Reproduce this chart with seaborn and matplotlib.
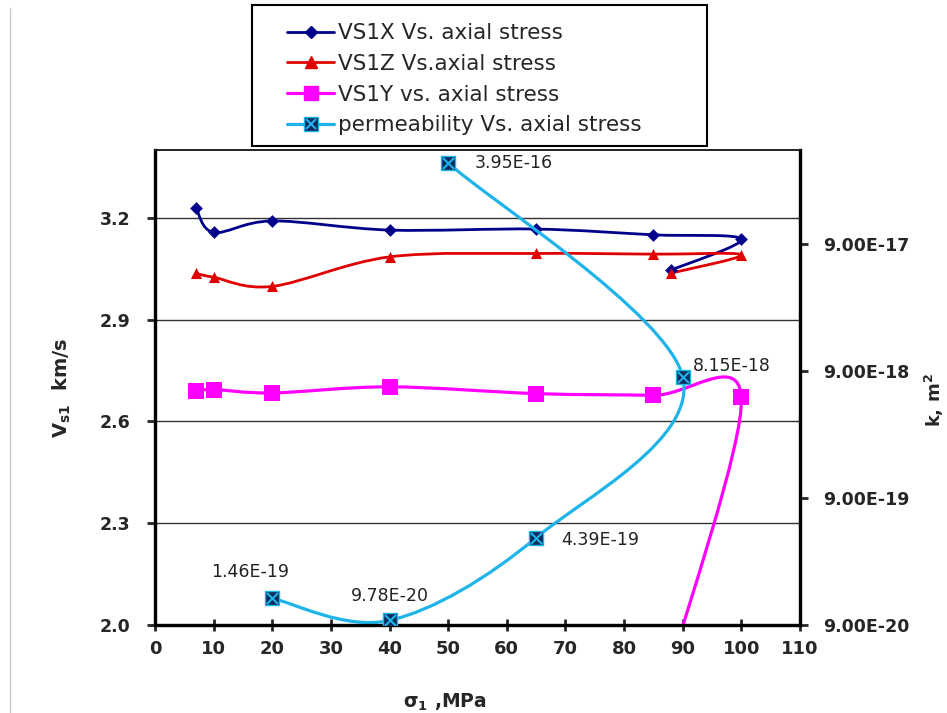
import matplotlib
matplotlib.use("Agg")
import matplotlib.pyplot as plt
import seaborn as sns
import numpy as np
import pandas as pd
from matplotlib.path import Path
from matplotlib.patches import PathPatch, Rectangle
from matplotlib.lines import Line2D

# data
stress = [7, 10, 20, 40, 65, 85, 100, 88]
vs1x = [3.230, 3.157, 3.191, 3.164, 3.167, 3.150, 3.137, 3.046]
vs1z = [3.036, 3.025, 2.998, 3.085, 3.095, 3.093, 3.091, 3.037]
vs1y = [2.690, 2.694, 2.684, 2.702, 2.682, 2.677, 2.671, 1.88]

perm_stress = [50, 90, 65, 40, 20]
perm_k = [3.95e-16, 8.15e-18, 4.39e-19, 9.78e-20, 1.46e-19]

x_ticks = list(range(0, 111, 10))
vs_ticks = [2.0, 2.3, 2.6, 2.9, 3.2]
k_ticks = [9e-20, 9e-19, 9e-18, 9e-17]


def smooth_path(xs, ys):
    # Excel-like smoothed line: Catmull-Rom segments as cubic Bezier
    pts = np.column_stack([xs, ys]).astype(float)
    n = len(pts)
    verts = [pts[0]]
    codes = [Path.MOVETO]
    for i in range(n - 1):
        p0 = pts[i - 1] if i > 0 else pts[i]
        p1, p2 = pts[i], pts[i + 1]
        p3 = pts[i + 2] if i + 2 < n else pts[i + 1]
        verts += [p1 + (p2 - p0) / 6, p2 - (p3 - p1) / 6, p2]
        codes += [Path.CURVE4] * 3
    return Path(np.array(verts), codes)


sns.set_style("white")
plt.rcParams["font.family"] = ["DejaVu Sans"]
plt.rcParams["mathtext.fontset"] = "dejavusans"

fig = plt.figure(figsize=(9.47, 7.13), dpi=100)
ax = fig.add_axes([155 / 947, 1 - 625 / 713, 645 / 947, 475 / 713])
ax2 = ax.twinx()

df = pd.DataFrame({"stress": stress, "VS1X": vs1x, "VS1Z": vs1z, "VS1Y": vs1y})

series = [
    ("VS1X", "#00008B", "D", 6.5, 2.0),
    ("VS1Z", "#E00000", "^", 8, 2.0),
    ("VS1Y", "#FF00FF", "s", 11, 2.3),
]
for col, color, marker, ms, lw in series:
    ax.add_patch(PathPatch(smooth_path(df["stress"], df[col]), fill=False,
                           edgecolor=color, lw=lw, zorder=2))
    sns.scatterplot(data=df, x="stress", y=col, ax=ax, color=color, marker=marker,
                    s=ms ** 2, edgecolor=color, linewidth=0, zorder=3, legend=False)

# permeability on a log right axis, smoothing done in log space
perm_color = "#1EB4EA"
logk = np.log10(perm_k)
p = smooth_path(perm_stress, logk)
p = Path(np.column_stack([p.vertices[:, 0], 10 ** p.vertices[:, 1]]), p.codes)
ax2.set_yscale("log")
ax2.add_patch(PathPatch(p, fill=False, edgecolor=perm_color, lw=2.3, zorder=2))
pdf = pd.DataFrame({"stress": perm_stress, "k": perm_k})
sns.scatterplot(data=pdf, x="stress", y="k", ax=ax2, marker="s", s=10 ** 2,
                color="#0F2B5B", edgecolor=perm_color, linewidth=1, zorder=4, legend=False)
sns.scatterplot(data=pdf, x="stress", y="k", ax=ax2, marker="x", s=8 ** 2,
                color=perm_color, linewidth=1.5, zorder=5, legend=False)

label_offsets = [(27, 0, "left"), (10, 11, "left"), (25, -2, "left"),
                 (0, 24, "center"), (-22, 26, "center")]
for xv, kv, (dx, dy, ha) in zip(perm_stress, perm_k, label_offsets):
    ax2.annotate(f"{kv:.2E}", (xv, kv), xytext=(dx, dy), textcoords="offset pixels",
                 ha=ha, va="center", fontsize=12.5, color="#222222")

# axes styling
ax.set_xlim(0, 110)
ax.set_ylim(2.0, 3.4)
ax.set_xticks(x_ticks)
ax.set_yticks(vs_ticks)
ax.set_yticklabels([f"{v:.1f}" for v in vs_ticks])
ax2.set_ylim(9e-20, 5e-16)
ax2.set_yticks(k_ticks)
ax2.set_yticklabels([f"{v:.2E}" for v in k_ticks])
ax2.yaxis.set_minor_locator(matplotlib.ticker.NullLocator())

ax.grid(axis="y", color="#333333", lw=1)
ax.grid(axis="x", visible=False)
ax.set_axisbelow(True)

for a in (ax, ax2):
    for side in ("left", "right", "bottom"):
        a.spines[side].set_linewidth(2.3)
        a.spines[side].set_color("black")
    a.spines["top"].set_linewidth(1.2)
    a.spines["top"].set_color("#222222")

ax.tick_params(axis="x", direction="inout", length=9, width=2, pad=6,
               labelsize=13, bottom=True)
ax.tick_params(axis="y", direction="out", length=6, width=2, pad=12,
               labelsize=12.5, left=True)
ax2.tick_params(axis="y", direction="out", length=6, width=2, pad=11,
                labelsize=12.5, right=True)
for lab in ax.get_xticklabels() + ax.get_yticklabels() + ax2.get_yticklabels():
    lab.set_fontweight("bold")

ax.set_xlabel(r"σ$_\mathbf{1}$ ,MPa", fontsize=13.5, fontweight="bold")
ax.xaxis.set_label_coords(0.45, -0.141)
ax.set_ylabel(r"V$_\mathbf{s1}$  km/s", fontsize=14, fontweight="bold",
              va="center", ha="center")
ax.yaxis.set_label_coords(-0.144, 0.5)
ax2.set_ylabel(r"k, m$^\mathbf{2}$", fontsize=13, fontweight="bold", rotation=90,
               va="center", ha="center")
ax2.yaxis.set_label_coords(1.209, 0.474)

# legend in a separate box above the plot
handles = [
    Line2D([], [], color="#00008B", lw=2.0, marker="D", ms=6.5),
    Line2D([], [], color="#E00000", lw=2.0, marker="^", ms=8),
    Line2D([], [], color="#FF00FF", lw=2.3, marker="s", ms=10),
    (Line2D([], [], color=perm_color, lw=2.3, marker="s", ms=9.5,
            mfc="#0F2B5B", mec=perm_color),
     Line2D([], [], ls="none", marker="x", ms=7.5, mec=perm_color, mew=1.5)),
]
labels = ["VS1X Vs. axial stress", "VS1Z Vs.axial stress",
          "VS1Y vs. axial stress", "permeability Vs. axial stress"]
fig.add_artist(Rectangle((252 / 947, 1 - 146 / 713), 455 / 947, 141 / 713,
                         transform=fig.transFigure, fill=False,
                         edgecolor="black", lw=1.5))
fig.legend(handles, labels, loc="upper left",
           bbox_to_anchor=(272 / 947, 1 - 8 / 713), frameon=False,
           fontsize=15.5, handlelength=2.2, handletextpad=0.15,
           labelspacing=0.5, borderpad=0.2)

fig.add_artist(Line2D([10 / 947, 10 / 947], [0, 1 - 8 / 713],
                      transform=fig.transFigure, color="#c8c8c8", lw=1))

fig.savefig("out.png", dpi=100, facecolor="white")
plt.close(fig)
